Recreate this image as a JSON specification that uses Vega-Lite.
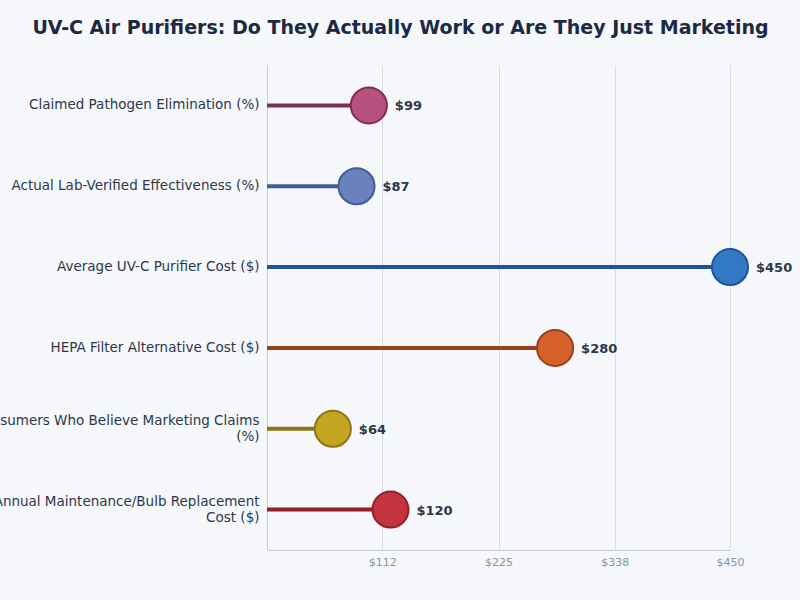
{
  "$schema": "https://vega.github.io/schema/vega-lite/v6.json",
  "width": 463,
  "height": 485,
  "autosize": {"type": "none"},
  "padding": {"left": 267, "top": 65, "right": 70, "bottom": 50},
  "background": "#f5f7fb",
  "title": {
    "text": "UV-C Air Purifiers: Do They Actually Work or Are They Just Marketing",
    "anchor": "middle",
    "frame": "group",
    "dx": -98,
    "offset": 27,
    "font": "DejaVu Sans",
    "fontSize": 19,
    "fontWeight": "bold",
    "color": "#1c2942"
  },
  "config": {
    "view": {"stroke": null},
    "font": "DejaVu Sans"
  },
  "data": {
    "values": [
      {"metric": "Claimed Pathogen Elimination (%)", "value": 99},
      {"metric": "Actual Lab-Verified Effectiveness (%)", "value": 87},
      {"metric": "Average UV-C Purifier Cost ($)", "value": 450},
      {"metric": "HEPA Filter Alternative Cost ($)", "value": 280},
      {"metric": "Consumers Who Believe Marketing Claims (%)", "value": 64},
      {"metric": "Annual Maintenance/Bulb Replacement Cost ($)", "value": 120}
    ]
  },
  "encoding": {
    "y": {
      "field": "metric",
      "type": "nominal",
      "sort": null,
      "axis": {
        "title": null,
        "ticks": false,
        "labelPadding": 8,
        "labelFontSize": 13.5,
        "labelColor": "#2d3748",
        "labelLimit": 0,
        "labelLineHeight": 16,
        "labelOffset": {
          "condition": {"test": "length(datum.label) > 40", "value": -8},
          "value": 0
        },
        "domainColor": "#c8cdd6",
        "domainWidth": 1,
        "labelExpr": "datum.label == 'Consumers Who Believe Marketing Claims (%)' ? ['Consumers Who Believe Marketing Claims', '(%)'] : datum.label == 'Annual Maintenance/Bulb Replacement Cost ($)' ? ['Annual Maintenance/Bulb Replacement', 'Cost ($)'] : datum.label"
      }
    }
  },
  "layer": [
    {
      "mark": {"type": "rule", "strokeWidth": 4},
      "encoding": {
        "x": {
          "field": "value",
          "type": "quantitative",
          "scale": {"domain": [0, 450], "nice": false},
          "axis": {
            "title": null,
            "values": [112, 225, 338, 450],
            "labelExpr": "'$' + datum.value",
            "ticks": false,
            "grid": true,
            "gridColor": "#d9dde3",
            "gridWidth": 1,
            "domainColor": "#c8cdd6",
            "labelColor": "#8a93a3",
            "labelFontSize": 11,
            "labelPadding": 6,
            "labelFlush": false
          }
        },
        "x2": {"datum": 0},
        "stroke": {
          "field": "metric",
          "type": "nominal",
          "sort": null,
          "legend": null,
          "scale": {
            "domain": [
              "Claimed Pathogen Elimination (%)",
              "Actual Lab-Verified Effectiveness (%)",
              "Average UV-C Purifier Cost ($)",
              "HEPA Filter Alternative Cost ($)",
              "Consumers Who Believe Marketing Claims (%)",
              "Annual Maintenance/Bulb Replacement Cost ($)"
            ],
            "range": ["#7d2d55", "#3f5f92", "#1f5597", "#98401c", "#8c7514", "#941f27"]
          }
        }
      }
    },
    {
      "mark": {"type": "point", "filled": true, "size": 1300, "strokeWidth": 2, "opacity": 1},
      "encoding": {
        "x": {"field": "value", "type": "quantitative"},
        "fill": {
          "field": "metric",
          "type": "nominal",
          "sort": null,
          "legend": null,
          "scale": {
            "domain": [
              "Claimed Pathogen Elimination (%)",
              "Actual Lab-Verified Effectiveness (%)",
              "Average UV-C Purifier Cost ($)",
              "HEPA Filter Alternative Cost ($)",
              "Consumers Who Believe Marketing Claims (%)",
              "Annual Maintenance/Bulb Replacement Cost ($)"
            ],
            "range": ["#b9517f", "#6a80bf", "#3179c2", "#d6622b", "#c4a51f", "#c4343f"]
          }
        },
        "stroke": {"field": "metric", "type": "nominal", "sort": null, "legend": null}
      }
    },
    {
      "mark": {"type": "text", "align": "left", "baseline": "middle", "dx": 26, "dy": 1, "fontSize": 13, "fontWeight": "bold", "color": "#2d3748"},
      "encoding": {
        "x": {"field": "value", "type": "quantitative"},
        "text": {"field": "value", "type": "quantitative", "format": "$.0f"}
      }
    }
  ]
}
